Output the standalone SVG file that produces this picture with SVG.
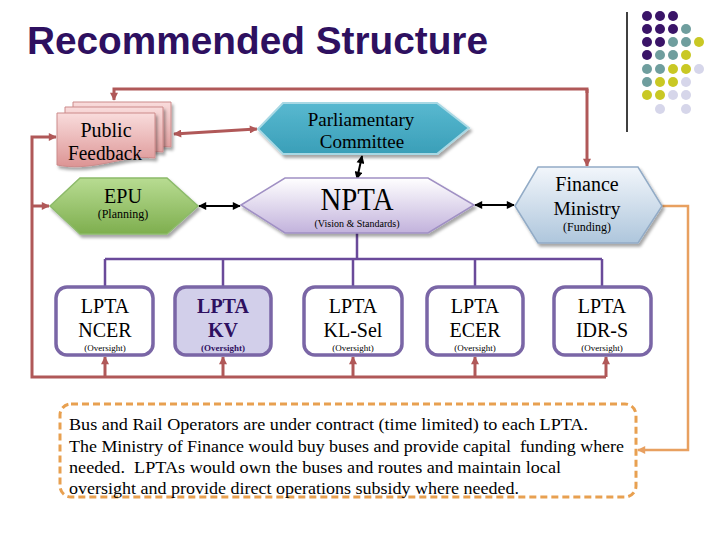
<svg xmlns="http://www.w3.org/2000/svg" width="720" height="540" viewBox="0 0 720 540">
<style>
.red{fill:none;stroke:#b05858;stroke-width:3}
.blk{fill:none;stroke:#000;stroke-width:2}
.pur{fill:none;stroke:#6a4a9a;stroke-width:2.5}
.org{fill:none;stroke:#e8a060;stroke-width:2.5}
.lpta{fill:#fff;stroke:#7a66a6;stroke-width:3.5}
.tx{font-family:Liberation Serif,Tinos,DejaVu Serif,serif}
</style>
<defs>
<linearGradient id="gPink" x1="0" y1="0" x2="0" y2="1"><stop offset="0" stop-color="#f9dcdc"/><stop offset="1" stop-color="#dc9494"/></linearGradient>
<linearGradient id="gTeal" x1="0" y1="0" x2="0" y2="1"><stop offset="0" stop-color="#58b8d0"/><stop offset="1" stop-color="#3a9fb8"/></linearGradient>
<linearGradient id="gLav" x1="0" y1="0" x2="0" y2="1"><stop offset="0" stop-color="#ffffff"/><stop offset="1" stop-color="#c2b2dc"/></linearGradient>
<linearGradient id="gGreen" x1="0" y1="0" x2="0" y2="1"><stop offset="0" stop-color="#b8dc92"/><stop offset="1" stop-color="#7eae4e"/></linearGradient>
<linearGradient id="gBlue" x1="0" y1="0" x2="0" y2="1"><stop offset="0" stop-color="#f2f6fb"/><stop offset="1" stop-color="#aec6dc"/></linearGradient>
<filter id="sh" x="-10%" y="-10%" width="130%" height="140%"><feDropShadow dx="2" dy="3" stdDeviation="1.5" flood-color="#000" flood-opacity="0.35"/></filter>
<marker id="aR" viewBox="0 0 10 10" refX="9" refY="5" markerWidth="9" markerHeight="8" markerUnits="userSpaceOnUse" orient="auto-start-reverse"><path d="M0,0 L10,5 L0,10 Z" fill="#b05858"/></marker>
<marker id="aK" viewBox="0 0 10 10" refX="9" refY="5" markerWidth="9" markerHeight="8" markerUnits="userSpaceOnUse" orient="auto-start-reverse"><path d="M0,0 L10,5 L0,10 Z" fill="#000"/></marker>
<marker id="aO" viewBox="0 0 10 10" refX="9" refY="5" markerWidth="9" markerHeight="8" markerUnits="userSpaceOnUse" orient="auto-start-reverse"><path d="M0,0 L10,5 L0,10 Z" fill="#e8a060"/></marker>
<path id="doc" d="M0,0 H98 V45 C80,43 65,47 50,50 C30,54 15,55 0,52 Z"/>
</defs>

<rect width="720" height="540" fill="#fff"/>

<text x="27" y="54" font-family="Liberation Sans, Arial, sans-serif" font-weight="bold" font-size="38.5" fill="#2e1060" textLength="461" lengthAdjust="spacingAndGlyphs">Recommended Structure</text>

<g id="decor">
<line x1="627" y1="12" x2="627" y2="132" stroke="#000" stroke-width="1.5"/>
<g fill="#3a1468">
<circle cx="647" cy="16" r="5"/><circle cx="660" cy="16" r="5"/><circle cx="673" cy="16" r="5"/>
<circle cx="647" cy="29" r="5"/><circle cx="660" cy="29" r="5"/><circle cx="673" cy="29" r="5"/>
<circle cx="647" cy="42" r="5"/><circle cx="660" cy="42" r="5"/>
<circle cx="647" cy="55" r="5"/>
</g>
<g fill="#6f9e9e">
<circle cx="686" cy="29" r="5"/>
<circle cx="673" cy="42" r="5"/><circle cx="686" cy="42" r="5"/>
<circle cx="660" cy="55" r="5"/><circle cx="673" cy="55" r="5"/>
<circle cx="647" cy="69" r="5"/><circle cx="660" cy="69" r="5"/>
<circle cx="647" cy="82" r="5"/>
</g>
<g fill="#c9c824">
<circle cx="699" cy="42" r="5"/>
<circle cx="686" cy="55" r="5"/>
<circle cx="673" cy="69" r="5"/><circle cx="686" cy="69" r="5"/>
<circle cx="660" cy="82" r="5"/><circle cx="673" cy="82" r="5"/>
<circle cx="647" cy="95" r="5"/><circle cx="660" cy="95" r="5"/>
</g>
<g fill="#d6d6ea">
<circle cx="699" cy="69" r="5"/>
<circle cx="686" cy="82" r="5"/>
<circle cx="673" cy="95" r="5"/><circle cx="686" cy="95" r="5"/>
<circle cx="660" cy="109" r="5"/><circle cx="686" cy="109" r="5"/>
</g>
</g>

<g id="connectors">
<path class="red" d="M587,93 V89 H114 V100" marker-end="url(#aR)"/>
<path class="red" d="M587,89 V166" marker-end="url(#aR)"/>
<path class="red" d="M606,377 H32 V137 H56" marker-end="url(#aR)"/>
<path class="red" d="M32,206 H49" marker-end="url(#aR)"/>
<path class="red" d="M105,377 V357" marker-end="url(#aR)"/>
<path class="red" d="M223,377 V357" marker-end="url(#aR)"/>
<path class="red" d="M353,377 V357" marker-end="url(#aR)"/>
<path class="red" d="M475,377 V357" marker-end="url(#aR)"/>
<path class="red" d="M606,377 V357" marker-end="url(#aR)"/>
<path class="red" d="M174,134 L257,129" marker-start="url(#aR)" marker-end="url(#aR)"/>
<path class="blk" d="M199,206 L240,206" marker-start="url(#aK)" marker-end="url(#aK)"/>
<path class="blk" d="M362,156 L357,179" marker-start="url(#aK)" marker-end="url(#aK)"/>
<path class="blk" d="M475,205 L514,205" marker-start="url(#aK)" marker-end="url(#aK)"/>
<path class="pur" d="M357,233 V259 M105,259 H602 M105,259 V286 M223,259 V286 M353,259 V286 M475,259 V286 M602,259 V286"/>
<path class="org" d="M662,206 H688 V450 H638" marker-end="url(#aO)"/>
</g>

<g class="tx" fill="#000">
<g id="public-feedback">
<use href="#doc" x="73" y="102" fill="url(#gPink)" stroke="#cc8a8a" stroke-width="1" filter="url(#sh)"/>
<use href="#doc" x="65" y="107" fill="url(#gPink)" stroke="#cc8a8a" stroke-width="1" filter="url(#sh)"/>
<use href="#doc" x="57" y="113" fill="url(#gPink)" stroke="#cc8a8a" stroke-width="1" filter="url(#sh)"/>
<text class="tx" x="106" y="137" font-size="20" text-anchor="middle">Public</text>
<text class="tx" x="105" y="160" font-size="20" text-anchor="middle" textLength="74" lengthAdjust="spacingAndGlyphs">Feedback</text>
</g>

<g id="parliamentary">
<polygon points="258,129 283,103 437,103 469,128 437,154 283,154" fill="url(#gTeal)" stroke="#a8d8e4" stroke-width="2" filter="url(#sh)"/>
<text class="tx" x="361" y="126" font-size="19" text-anchor="middle">Parliamentary</text>
<text class="tx" x="362" y="148" font-size="19" text-anchor="middle">Committee</text>
</g>

<g id="epu">
<polygon points="50,206 80,178 167,178 198,206 167,234 80,234" fill="url(#gGreen)" stroke="#8cba6a" stroke-width="1.5" filter="url(#sh)"/>
<text class="tx" x="123" y="203" font-size="20" text-anchor="middle">EPU</text>
<text class="tx" x="123" y="218" font-size="12" text-anchor="middle">(Planning)</text>
</g>

<g id="npta">
<polygon points="241,205 285,178 428,178 474,205 428,233 285,233" fill="url(#gLav)" stroke="#a090c4" stroke-width="1.5" filter="url(#sh)"/>
<text class="tx" x="357" y="210" font-size="31" text-anchor="middle" textLength="73" lengthAdjust="spacingAndGlyphs">NPTA</text>
<text class="tx" x="357" y="227" font-size="10" text-anchor="middle">(Vision &amp; Standards)</text>
</g>

<g id="finance">
<polygon points="515,206 538,167 638,167 662,206 638,243 538,243" fill="url(#gBlue)" stroke="#92abc6" stroke-width="1.5" filter="url(#sh)"/>
<text class="tx" x="587" y="191" font-size="20" text-anchor="middle">Finance</text>
<text class="tx" x="587" y="215" font-size="19.5" text-anchor="middle">Ministry</text>
<text class="tx" x="587" y="231" font-size="12" text-anchor="middle">(Funding)</text>
</g>

<g id="lpta-ncer">
<rect class="lpta" x="56" y="287" width="97" height="68" rx="11"/>
<text class="tx" x="105" y="313" font-size="20" text-anchor="middle">LPTA</text>
<text class="tx" x="105" y="337" font-size="20" text-anchor="middle">NCER</text>
<text class="tx" x="105" y="351" font-size="9" text-anchor="middle">(Oversight)</text>
</g>
<g id="lpta-kv" fill="#2e1060" font-weight="bold">
<rect class="lpta" x="175" y="287" width="96" height="68" rx="11" style="fill:#d2cfea"/>
<text class="tx" x="223" y="313" font-size="20" text-anchor="middle">LPTA</text>
<text class="tx" x="223" y="337" font-size="20" text-anchor="middle">KV</text>
<text class="tx" x="223" y="351" font-size="9" text-anchor="middle">(Oversight)</text>
</g>
<g id="lpta-klsel">
<rect class="lpta" x="304" y="287" width="98" height="68" rx="11"/>
<text class="tx" x="353" y="313" font-size="20" text-anchor="middle">LPTA</text>
<text class="tx" x="353" y="337" font-size="20" text-anchor="middle">KL-Sel</text>
<text class="tx" x="353" y="351" font-size="9" text-anchor="middle">(Oversight)</text>
</g>
<g id="lpta-ecer">
<rect class="lpta" x="427" y="287" width="96" height="68" rx="11"/>
<text class="tx" x="475" y="313" font-size="20" text-anchor="middle">LPTA</text>
<text class="tx" x="475" y="337" font-size="20" text-anchor="middle">ECER</text>
<text class="tx" x="475" y="351" font-size="9" text-anchor="middle">(Oversight)</text>
</g>
<g id="lpta-idrs">
<rect class="lpta" x="554" y="287" width="97" height="68" rx="11"/>
<text class="tx" x="602" y="313" font-size="20" text-anchor="middle">LPTA</text>
<text class="tx" x="602" y="337" font-size="20" text-anchor="middle">IDR-S</text>
<text class="tx" x="602" y="351" font-size="9" text-anchor="middle">(Oversight)</text>
</g>

<g id="operators-note">
<rect x="60" y="404" width="576" height="93" rx="11" fill="none" stroke="#e8a050" stroke-width="3" stroke-dasharray="7 4"/>
<text class="tx" font-size="17" xml:space="preserve"><tspan x="69" y="430" textLength="519" lengthAdjust="spacingAndGlyphs">Bus and Rail Operators are under contract (time limited) to each LPTA.</tspan><tspan x="69" y="451.5" textLength="555" lengthAdjust="spacingAndGlyphs">The Ministry of Finance would buy buses and provide capital  funding where</tspan><tspan x="69" y="473" textLength="492" lengthAdjust="spacingAndGlyphs">needed.  LPTAs would own the buses and routes and maintain local</tspan><tspan x="69" y="494" textLength="450" lengthAdjust="spacingAndGlyphs">oversight and provide direct operations subsidy where needed.</tspan></text>
</g>
</g>
</svg>
